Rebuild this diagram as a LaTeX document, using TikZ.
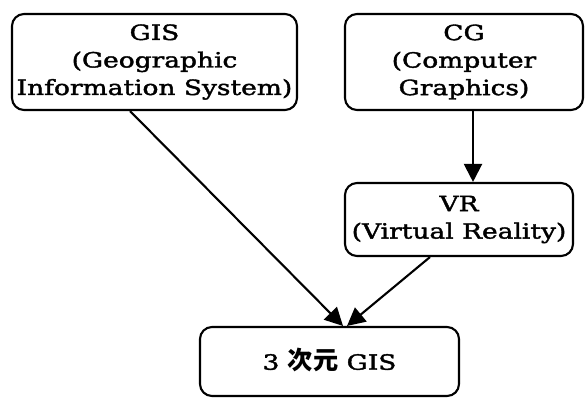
\documentclass[tikz,border=0pt]{standalone}
\usepackage{fontspec}
\setmainfont{DejaVu Serif}[FakeStretch=1.26, FakeBold=1.8]
\newfontfamily\cjk{Noto Sans CJK JP}[Scale=1.2]
\usetikzlibrary{arrows.meta}
\begin{document}
\begin{tikzpicture}[x=1pt,y=-1pt,
  box/.style={draw, line width=2.1pt, rounded corners=12pt, align=center, inner sep=0pt,
    font=\fontsize{21}{27.5}\selectfont},
  conn/.style={line width=2.1pt, -{Triangle[length=18pt,width=18pt]}}]
\useasboundingbox (0,0) rectangle (585,397);
\node[box, minimum width=285pt, minimum height=96pt] (gis) at (154.5,62)
  {GIS\\(Geographic\\Information System)};
\node[box, minimum width=238pt, minimum height=96pt] (cg) at (464,62)
  {CG\\(Computer\\Graphics)};
\node[box, minimum width=228pt, minimum height=73pt] (vr) at (459,219.5)
  {VR\\(Virtual Reality)};
\node[box, minimum width=259pt, minimum height=69pt] (d3) at (329.5,361.5)
  {\raisebox{5pt}{3 {\cjk\bfseries 次元} GIS}};
\draw[conn] ([xshift=-24.5pt]gis.south) -- ([xshift=13.5pt]d3.north);
\draw[conn] ([xshift=-29pt]vr.south) -- ([xshift=17.5pt]d3.north);
\draw[conn] ([xshift=9pt]cg.south) -- ([xshift=9pt]cg.south |- vr.north);
\end{tikzpicture}
\end{document}
